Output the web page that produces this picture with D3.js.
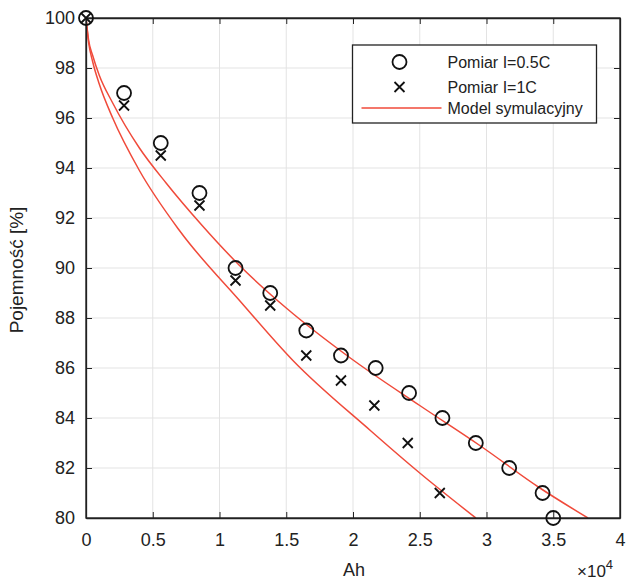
<!DOCTYPE html>
<html>
<head>
<meta charset="utf-8">
<script src="https://cdn.jsdelivr.net/npm/d3@7"></script>
<style>
  body { margin: 0; background: #fff; }
  svg { font-family: "Liberation Sans", Arial, Helvetica, sans-serif; }
</style>
</head>
<body>
<svg id="chart"></svg>
<script>
// pomiary - pojemnosc w funkcji przeplywu ladunku
const ahHalfC = [0, 2850, 5600, 8500, 11200, 13800, 16500, 19100, 21700, 24200, 26700, 29200, 31700, 34200, 35000]
const capHalfC = [100, 97, 95, 93, 90, 89, 87.5, 86.5, 86, 85, 84, 83, 82, 81, 80]

const ahOneC = [0, 2850, 5600, 8500, 11200, 13800, 16500, 19100, 21600, 24100, 26500]
const capOneC = [100, 96.5, 94.5, 92.5, 89.5, 88.5, 86.5, 85.5, 84.5, 83, 81]

// model symulacyjny
const ahModelA = [0, 200, 500, 1000, 2000, 4000, 6000, 8700, 11500, 15000, 19800, 25000, 29500, 34000, 37600]
const capModelA = [100, 99.1, 98.5, 97.7, 96.6, 94.8, 93.4, 91.7, 90.1, 88.4, 86.4, 84.5, 82.9, 81.2, 80]

const ahModelB = [0, 200, 500, 1000, 2000, 4000, 7000, 11500, 15500, 21300, 25000, 29200]
const capModelB = [100, 99.0, 98.25, 97.35, 96.0, 93.9, 91.5, 88.7, 86.3, 83.5, 81.8, 80]

const xTicks = [0, 5000, 10000, 15000, 20000, 25000, 30000, 35000, 40000]
const yTicks = [80, 82, 84, 86, 88, 90, 92, 94, 96, 98, 100]
const legendLabels = ['Pomiar I=0.5C', 'Pomiar I=1C', 'Model symulacyjny']

const config = {
    containerWidth: 633,
    containerHeight: 581,
    margin: { top: 18, right: 13, bottom: 63, left: 86 }
}

const width = config.containerWidth - config.margin.left - config.margin.right
const height = config.containerHeight - config.margin.top - config.margin.bottom

const textColor = '#222'
const red = '#f04a3a'

const svg = d3.select('#chart')
    .attr('width', config.containerWidth)
    .attr('height', config.containerHeight)

const chart = svg.append('g')
    .attr('transform', `translate(${config.margin.left}, ${config.margin.top})`)

const xScale = d3.scaleLinear().domain([0, 40000]).range([0, width])
const yScale = d3.scaleLinear().domain([80, 100]).range([height, 0])

// siatka
chart.append('g')
    .selectAll('line')
    .data(xTicks)
    .join('line')
        .attr('x1', d => xScale(d)).attr('x2', d => xScale(d))
        .attr('y1', 0).attr('y2', height)
        .attr('stroke', '#e3e3e3')
        .attr('stroke-width', 1)

chart.append('g')
    .selectAll('line')
    .data(yTicks)
    .join('line')
        .attr('x1', 0).attr('x2', width)
        .attr('y1', d => yScale(d)).attr('y2', d => yScale(d))
        .attr('stroke', '#e3e3e3')
        .attr('stroke-width', 1)

// krzywe modelu
chart.append('clipPath').attr('id', 'plot-clip')
    .append('rect').attr('width', width).attr('height', height)

const line = d3.line()
    .x(d => xScale(d[0]))
    .y(d => yScale(d[1]))
    .curve(d3.curveMonotoneX)

const models = [d3.zip(ahModelA, capModelA), d3.zip(ahModelB, capModelB)]

chart.append('g')
    .attr('clip-path', 'url(#plot-clip)')
    .selectAll('path')
    .data(models)
    .join('path')
        .attr('d', line)
        .attr('fill', 'none')
        .attr('stroke', red)
        .attr('stroke-width', 1.5)

// osie z kreskami do srodka
const tick = 6
const xAxis = d3.axisBottom(xScale).tickValues(xTicks).tickSizeInner(-tick).tickSizeOuter(0)
    .tickFormat(d => d3.format('~g')(d / 10000)).tickPadding(15)
const yAxis = d3.axisLeft(yScale).tickValues(yTicks).tickSizeInner(-tick).tickSizeOuter(0).tickPadding(11)

chart.append('g').attr('transform', `translate(0, ${height})`).call(xAxis)
chart.append('g').call(yAxis)
chart.append('g').call(d3.axisTop(xScale).tickValues(xTicks).tickSizeInner(-tick).tickSizeOuter(0).tickFormat(''))
chart.append('g').attr('transform', `translate(${width}, 0)`)
    .call(d3.axisRight(yScale).tickValues(yTicks).tickSizeInner(-tick).tickSizeOuter(0).tickFormat(''))

chart.selectAll('.domain').attr('stroke', textColor).attr('stroke-width', 1.3)
chart.selectAll('.tick line').attr('stroke', textColor).attr('stroke-width', 1)
chart.selectAll('.tick text')
    .attr('fill', textColor)
    .style('font-size', '18px')
    .style('font-family', '"Liberation Sans", Arial, sans-serif')

// ramka
chart.append('rect')
    .attr('width', width).attr('height', height)
    .attr('fill', 'none')
    .attr('stroke', textColor)
    .attr('stroke-width', 1.3)

// punkty pomiarowe
const halfC = d3.zip(ahHalfC, capHalfC)
const oneC = d3.zip(ahOneC, capOneC)

chart.append('g')
    .selectAll('circle')
    .data(halfC)
    .join('circle')
        .attr('cx', d => xScale(d[0]))
        .attr('cy', d => yScale(d[1]))
        .attr('r', 7)
        .attr('fill', 'none')
        .attr('stroke', '#111')
        .attr('stroke-width', 1.8)

const crossPath = 'M-5,-5L5,5M-5,5L5,-5'
chart.append('g')
    .selectAll('path')
    .data(oneC)
    .join('path')
        .attr('transform', d => `translate(${xScale(d[0])}, ${yScale(d[1])})`)
        .attr('d', crossPath)
        .attr('stroke', '#111')
        .attr('stroke-width', 1.8)

// legenda
const legend = chart.append('g').attr('transform', `translate(${352.5 - config.margin.left}, ${45 - config.margin.top})`)
legend.append('rect')
    .attr('width', 244).attr('height', 78)
    .attr('fill', '#fff')
    .attr('stroke', textColor)
    .attr('stroke-width', 1.3)

const rowY = [17, 42, 63]
legend.append('circle').attr('cx', 47).attr('cy', rowY[0]).attr('r', 7)
    .attr('fill', 'none').attr('stroke', '#111').attr('stroke-width', 1.8)
legend.append('path').attr('transform', `translate(47, ${rowY[1]})`).attr('d', crossPath)
    .attr('stroke', '#111').attr('stroke-width', 1.8)
legend.append('line').attr('x1', 9).attr('x2', 89).attr('y1', rowY[2]).attr('y2', rowY[2])
    .attr('stroke', red).attr('stroke-width', 1.5)

legend.selectAll('text.lbl')
    .data(legendLabels)
    .join('text')
        .attr('class', 'lbl')
        .attr('x', 95)
        .attr('y', (d, i) => rowY[i])
        .attr('dy', '0.35em')
        .attr('fill', textColor)
        .style('font-size', '16px')
        .text(d => d)

// opisy osi
svg.append('text')
    .attr('x', 354).attr('y', 576)
    .attr('text-anchor', 'middle')
    .attr('fill', textColor)
    .style('font-size', '18px')
    .text('Ah')

svg.append('text')
    .attr('transform', 'translate(23, 270) rotate(-90)')
    .attr('text-anchor', 'middle')
    .attr('fill', textColor)
    .style('font-size', '19px')
    .text('Pojemność [%]')

const expo = svg.append('text')
    .attr('x', 577).attr('y', 577)
    .attr('fill', textColor)
    .style('font-size', '17px')
expo.append('tspan').text('×10')
expo.append('tspan').attr('dy', -8).style('font-size', '13px').text('4')
</script>
</body>
</html>
